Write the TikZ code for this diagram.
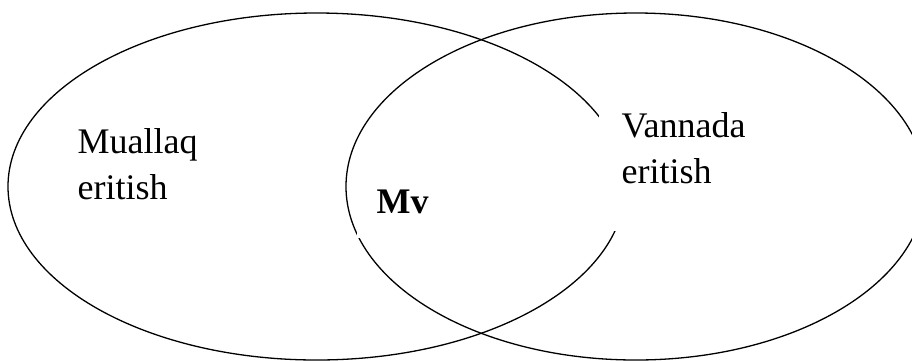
\documentclass[tikz,border=0pt]{standalone}
\usepackage{fontspec}
\setmainfont{Liberation Serif}
\usetikzlibrary{positioning}

\begin{document}
\begin{tikzpicture}[x=1pt, y=-1pt,
    venntext/.style={font=\fontsize{36}{46}\selectfont, align=left, fill=white, inner sep=0pt}]
% Frame (picture coordinates in pixels, y downwards)
\clip (0,0) rectangle (912,360);

% The two sets
\draw[line width=1.3pt] (316.6,186.5) ellipse [x radius=308.6pt, y radius=173.5pt];
\draw[line width=1.3pt] (635.8,186.5) ellipse [x radius=289.8pt, y radius=173.5pt];

% Set labels (white boxes hide the outline behind them)
\node[venntext, anchor=north west] (muallaq) at (77.5,128.4) {Muallaq\\eritish};
\node[venntext, anchor=north west, inner xsep=23pt, inner ysep=1pt] (vannada)
    at (598.5,111.4) {Vannada\\eritish\\\mbox{}};

% Intersection label
\node[venntext, anchor=base west, inner xsep=20pt, inner ysep=25pt,
    font=\fontsize{36}{46}\selectfont\bfseries] (mv) at (356.5,213) {Mv};
\end{tikzpicture}
\end{document}
